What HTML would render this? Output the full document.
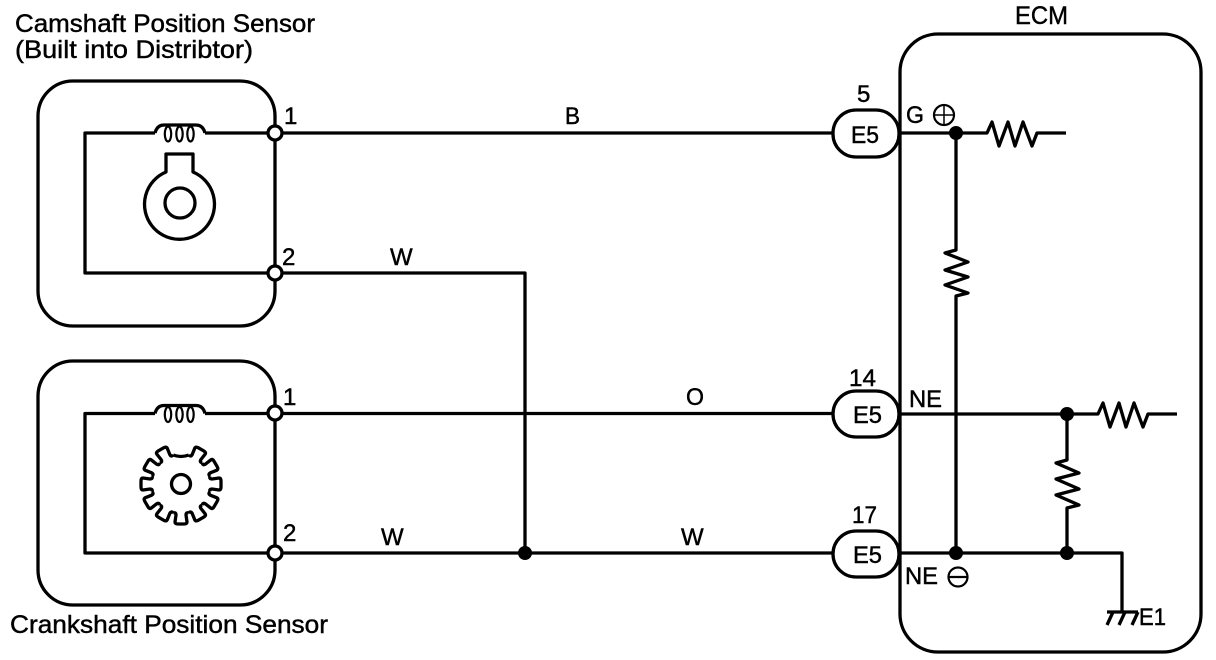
<!DOCTYPE html>
<html><head><meta charset="utf-8"><title>Camshaft and Crankshaft Position Sensor Circuit</title>
<style>
html,body{margin:0;padding:0;background:#fff;width:1216px;height:660px;overflow:hidden}
svg{display:block}
text{font-family:"Liberation Sans",sans-serif;font-size:24px;fill:#000;stroke:#000;stroke-width:.45}
.n{font-size:25px}
.l{fill:none;stroke:#000;stroke-width:3.300;stroke-linejoin:round}
.t{fill:none;stroke:#000;stroke-width:2.2}
.o{fill:#fff;stroke:#000;stroke-width:3.300}
.d{fill:#000}
</style></head><body>
<svg width="1216" height="660" viewBox="0 0 1216 660" xmlns="http://www.w3.org/2000/svg">
<defs>
<g id="coil">
<path class="l" d="M0 0Q2 -8 9 -8H41Q48 -8 50 0"/>
<ellipse class="t" cx="13" cy="1" rx="3.2" ry="7.5"/>
<ellipse class="t" cx="24.500" cy="1" rx="3.2" ry="7.5"/>
<ellipse class="t" cx="35.500" cy="1" rx="3.2" ry="7.5"/>
</g>
<path id="tooth" class="l" d="M-7.800 -29Q-5 -28 -5 -31L-6 -38Q-6 -40 -3 -40H3Q6 -40 6 -38L5 -31Q5 -28 7.800 -29"/>
</defs>

<!-- Camshaft sensor -->
<rect class="l" x="38" y="81" width="237" height="245" rx="35"/>
<path class="l" d="M155 133H85V273H275"/>
<path class="l" d="M205 133H275"/>
<use href="#coil" x="155" y="133"/>
<path class="l" d="M166 172V154H193V172A35 35 0 1 1 166 172Z"/>
<circle class="l" cx="180" cy="203" r="15"/>

<!-- Crankshaft sensor -->
<rect class="l" x="38" y="361" width="237" height="244" rx="35"/>
<path class="l" d="M155 413.500H85V553H275"/>
<path class="l" d="M205 413.500H275"/>
<use href="#coil" x="155" y="413.500"/>
<g transform="translate(181 484)">
<path class="l" d="M-7.800 -29Q0 -26 7.800 -29"/>
<use href="#tooth" transform="rotate(30)"/><use href="#tooth" transform="rotate(60)"/>
<use href="#tooth" transform="rotate(90)"/><use href="#tooth" transform="rotate(120)"/>
<use href="#tooth" transform="rotate(150)"/><use href="#tooth" transform="rotate(180)"/>
<use href="#tooth" transform="rotate(210)"/><use href="#tooth" transform="rotate(240)"/>
<use href="#tooth" transform="rotate(270)"/><use href="#tooth" transform="rotate(300)"/>
<use href="#tooth" transform="rotate(330)"/>
<circle class="l" r="9.500"/>
</g>

<!-- Harness wires -->
<path class="l" d="M275 133H840"/>
<path class="l" d="M275 273H525V553"/>
<path class="l" d="M275 413.500H840"/>
<path class="l" d="M275 553H840"/>
<circle class="d" cx="525" cy="553" r="7"/>

<!-- Terminals -->
<circle class="o" cx="275" cy="133" r="7"/>
<circle class="o" cx="275" cy="273" r="7"/>
<circle class="o" cx="275" cy="413" r="7"/>
<circle class="o" cx="275" cy="553" r="7"/>

<!-- ECM -->
<rect class="l" x="900" y="34" width="301" height="618" rx="38"/>
<path class="l" d="M900 133H987L992 122L999 146L1008 122L1015 146L1023 122L1032 146L1037 133H1066"/>
<path class="l" d="M956 133V250L945 253L968 262L945 270L968 277L945 285L968 293L956 296V553"/>
<path class="l" d="M900 414H1098L1103 403L1110 427L1119 403L1126 427L1134 403L1143 427L1148 414H1177"/>
<path class="l" d="M1067 414V460L1056 463L1079 473L1056 479L1079 489L1056 495L1079 505L1067 508V553"/>
<path class="l" d="M900 553H1122V612"/>
<path class="l" d="M1107 612H1138M1113 612L1107 625M1125 612L1119 625M1138 612L1132 625"/>
<circle class="d" cx="956" cy="133" r="7"/>
<circle class="d" cx="1067" cy="414" r="7"/>
<circle class="d" cx="956" cy="553" r="7"/>
<circle class="d" cx="1067" cy="553" r="7"/>
<circle class="t" cx="944" cy="115" r="10"/>
<path class="t" style="stroke-width:1.5" d="M934 115H954M944 105V125"/>
<circle class="t" cx="958" cy="577" r="9.500"/>
<path class="t" d="M948.500 577H967.500"/>

<!-- Connectors -->
<rect class="o" x="833" y="110" width="66" height="47" rx="23"/>
<rect class="o" x="833" y="391" width="66" height="46" rx="23"/>
<rect class="o" x="833" y="531" width="66" height="46" rx="23"/>

<!-- Labels -->
<text class="n" x="15" y="32" textLength="300" lengthAdjust="spacingAndGlyphs">Camshaft Position Sensor</text>
<text class="n" x="15" y="58" textLength="238" lengthAdjust="spacingAndGlyphs">(Built into Distribtor)</text>
<text class="n" x="10" y="633" textLength="318" lengthAdjust="spacingAndGlyphs">Crankshaft Position Sensor</text>
<text x="284" y="124">1</text>
<text x="282" y="265">2</text>
<text x="283" y="405">1</text>
<text x="283" y="541">2</text>
<text x="565" y="124" textLength="15" lengthAdjust="spacingAndGlyphs">B</text>
<text x="390" y="265">W</text>
<text x="686" y="405" textLength="18" lengthAdjust="spacingAndGlyphs">O</text>
<text x="381" y="545">W</text>
<text x="681" y="545">W</text>
<text class="n" x="1015" y="24" textLength="53" lengthAdjust="spacingAndGlyphs">ECM</text>
<text x="857" y="102">5</text>
<text x="851" y="143" textLength="28" lengthAdjust="spacingAndGlyphs">E5</text>
<text x="849" y="386" textLength="27" lengthAdjust="spacingAndGlyphs">14</text>
<text x="853" y="423" textLength="29" lengthAdjust="spacingAndGlyphs">E5</text>
<text x="852" y="523" textLength="25" lengthAdjust="spacingAndGlyphs">17</text>
<text x="853" y="563" textLength="29" lengthAdjust="spacingAndGlyphs">E5</text>
<text x="906" y="123" textLength="18" lengthAdjust="spacingAndGlyphs">G</text>
<text x="909" y="407" textLength="33" lengthAdjust="spacingAndGlyphs">NE</text>
<text x="905" y="584" textLength="33" lengthAdjust="spacingAndGlyphs">NE</text>
<text x="1139" y="625" textLength="27" lengthAdjust="spacingAndGlyphs">E1</text>
</svg>
</body></html>
